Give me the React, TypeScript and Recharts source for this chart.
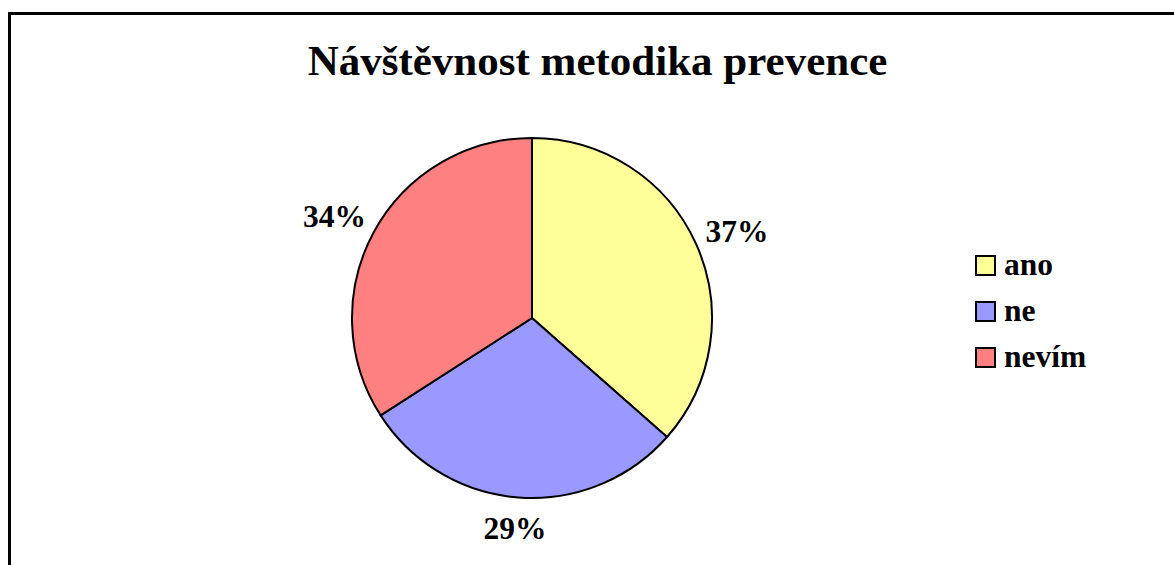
import { PieChart, Pie, Cell, Legend } from "recharts"

const categories = ["ano", "ne", "nevím"]
const values = [36.5, 29.4, 34.1]
const colors = ["#FFFF99", "#9999FF", "#FF8080"]

const title = "Návštěvnost metodika prevence"

const data = categories.map((name, i) => ({ name, value: values[i] }))

const FONT = "'Liberation Serif', 'Times New Roman', serif"
const RADIAN = Math.PI / 180

function renderLabel(props: any) {
  const { cx, cy, midAngle, percent } = props
  // labels sit a bit outside the edge, slightly flatter vertically
  const x = cx + 225 * Math.cos(-midAngle * RADIAN)
  const y = cy + 211 * Math.sin(-midAngle * RADIAN)
  return (
    <text
      x={x}
      y={y}
      textAnchor="middle"
      dominantBaseline="central"
      fontFamily={FONT}
      fontWeight="bold"
      fontSize={31.5}
      fill="#000"
    >
      {`${Math.round(percent * 100)}%`}
    </text>
  )
}

function LegendBox() {
  return (
    <div style={{ fontFamily: FONT, fontWeight: "bold", fontSize: 31.5 }}>
      {data.map((d, i) => (
        <div
          key={d.name}
          style={{ display: "flex", alignItems: "center", height: 46 }}
        >
          <div
            style={{
              width: 17,
              height: 17,
              border: "2px solid #000",
              background: colors[i],
              marginRight: 8
            }}
          />
          <span style={{ lineHeight: "30px" }}>{d.name}</span>
        </div>
      ))}
    </div>
  )
}

export default function App() {
  return (
    <div
      style={{
        position: "absolute",
        left: 0,
        top: 0,
        width: 1174,
        height: 565,
        overflow: "hidden",
        background: "#fff"
      }}
    >
      <div
        style={{
          position: "absolute",
          left: 8,
          top: 12,
          width: 1250,
          height: 650,
          border: "3px solid #000",
          boxSizing: "border-box"
        }}
      />
      <div
        style={{
          position: "absolute",
          left: 0,
          top: 40,
          width: 1195,
          textAlign: "center",
          fontFamily: FONT,
          fontWeight: "bold",
          fontSize: 43,
          lineHeight: "42px"
        }}
      >
        {title}
      </div>
      <PieChart
        width={1174}
        height={565}
        margin={{ top: 0, right: 0, bottom: 0, left: 0 }}
        style={{ position: "absolute", left: 0, top: 0 }}
      >
        <Pie
          data={data}
          dataKey="value"
          nameKey="name"
          cx={532}
          cy={318}
          outerRadius={180}
          startAngle={90}
          endAngle={-270}
          stroke="#000"
          strokeWidth={2}
          label={renderLabel}
          labelLine={false}
          isAnimationActive={false}
        >
          {data.map((d, i) => (
            <Cell key={d.name} fill={colors[i]} />
          ))}
        </Pie>
        <Legend
          content={<LegendBox />}
          wrapperStyle={{ position: "absolute", left: 975, top: 242, width: 180, bottom: "auto" }}
        />
      </PieChart>
    </div>
  )
}
